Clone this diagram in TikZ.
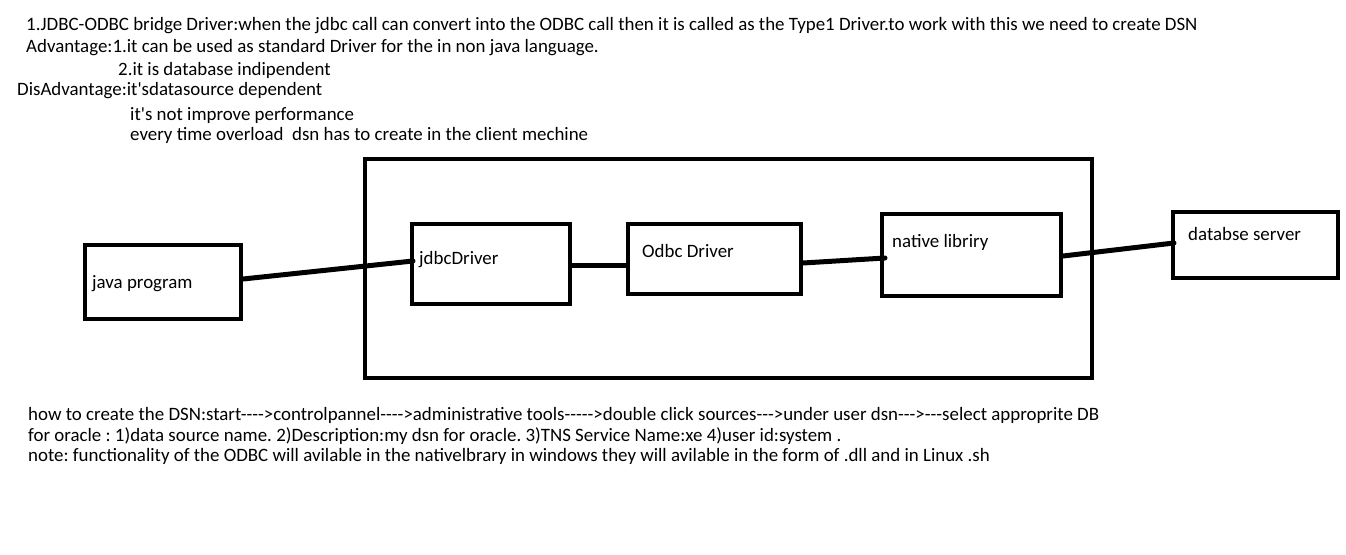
\documentclass[tikz,border=0pt]{standalone}
\usepackage{fontspec}
\setmainfont{Carlito}[Ligatures=TeXOff]
\frenchspacing
\usetikzlibrary{positioning}

\begin{document}
\begin{tikzpicture}[x=1pt,y=-1pt,
	note/.style={anchor=base west, inner sep=0pt, font=\fontsize{18.9}{22}\selectfont},
	unit/.style={draw, line width=4pt, inner sep=0pt},
	wire/.style={line width=5pt, line cap=round}]
	\useasboundingbox (0,0) rectangle (1346,554);
	% top notes
	\node[note] (t1) at (26,30.5) {1.JDBC-ODBC bridge Driver:when the jdbc call can convert into the ODBC call then it is called as the Type1 Driver.to work with this we need to create DSN};
	\node[note] (t2) at (26,52.5) {Advantage:1.it can be used as standard Driver for the in non java language.};
	\node[note] (t3) at (118,75) {2.it is database indipendent};
	\node[note] (t4) at (17,95) {DisAdvantage:it'sdatasource dependent};
	\node[note] (t5) at (130,120) {it's not improve performance};
	\node[note] (t6) at (130,140.5) {every time overload\ \ dsn has to create in the client mechine};
	% boxes
	\node[unit, minimum width=727pt, minimum height=219pt] (bridge) at (728.5,268.5) {};
	\node[unit, minimum width=156pt, minimum height=74pt] (java) at (163,282) {};
	\node[unit, minimum width=158pt, minimum height=80pt] (jdbc) at (491,264) {};
	\node[unit, minimum width=173pt, minimum height=70pt] (odbc) at (714.5,259) {};
	\node[unit, minimum width=179pt, minimum height=82pt] (native) at (971.5,255) {};
	\node[unit, minimum width=165pt, minimum height=66pt] (server) at (1255.5,245) {};
	\node[note] (javatxt) at (92,288) {java program};
	\node[note] (jdbctxt) at (419,264) {jdbcDriver};
	\node[note] (odbctxt) at (642,257) {Odbc Driver};
	\node[note] (nativetxt) at (892,247) {native libriry};
	\node[note] (servertxt) at (1188,240) {databse server};
	% connectors
	\draw[wire] ([yshift=3pt]java.east) -- ([yshift=3pt,xshift=3pt]jdbc.west);
	\draw[wire] ([yshift=-1pt]jdbc.east) -- ([yshift=-6pt]odbc.west);
	\draw[wire] ([yshift=-4pt]odbc.east) -- ([yshift=-3pt,xshift=5pt]native.west);
	\draw[wire] ([yshift=-1pt]native.east) -- ([yshift=2pt,xshift=3pt]server.west);
	% bottom notes
	\node[note] (b1) at (28,420) {how to create the DSN:start---->controlpannel---->administrative tools----->double click sources--->under user dsn--->---select approprite DB};
	\node[note] (b2) at (28,441.5) {for oracle : 1)data source name. 2)Description:my dsn for oracle. 3)TNS Service Name:xe 4)user id:system .};
	\node[note] (b3) at (28,461.5) {note: functionality of the ODBC will avilable in the nativelbrary in windows they will avilable in the form of .dll and in Linux .sh};
\end{tikzpicture}
\end{document}
